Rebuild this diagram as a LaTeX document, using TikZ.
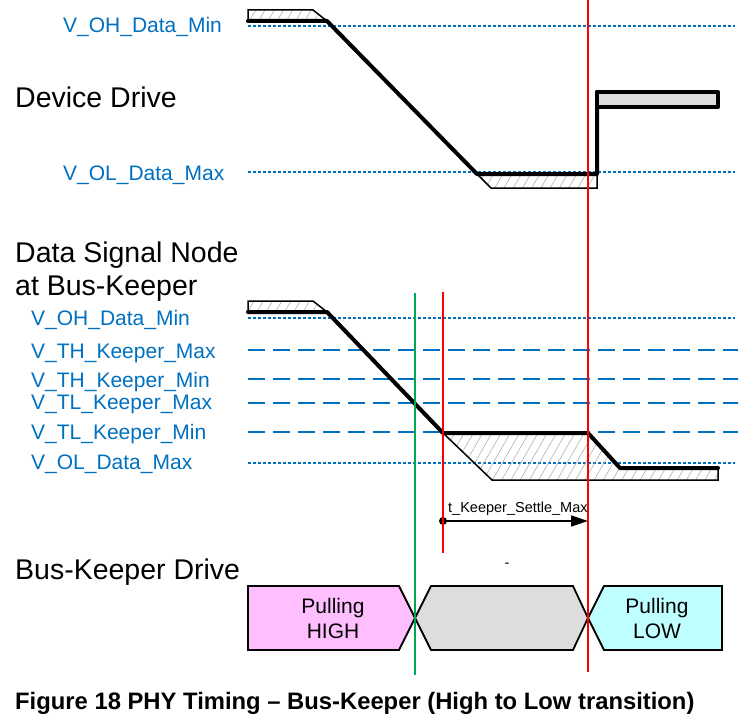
\documentclass[tikz,border=0pt]{standalone}
\usepackage{fontspec}
\setmainfont{Liberation Sans}
\usetikzlibrary{patterns.meta,arrows.meta}
\definecolor{lblblue}{RGB}{0,112,192}
\definecolor{pinkfill}{RGB}{255,191,255}
\definecolor{cyanfill}{RGB}{191,255,255}
\definecolor{grayfill}{RGB}{221,221,221}
\definecolor{keepgreen}{RGB}{0,168,80}
\begin{document}
\begin{tikzpicture}[x=1pt,y=-1pt,
  lbl/.style={anchor=base west,text=lblblue,font=\fontsize{21}{25}\selectfont,inner sep=0pt},
  head/.style={anchor=base west,font=\fontsize{28.5}{33}\selectfont,inner sep=0pt},
  dotl/.style={lblblue,line width=1.6pt,dash pattern=on 2.5pt off 2.5pt},
  dashl/.style={lblblue,line width=1.8pt,dash pattern=on 17pt off 8pt},
  wave/.style={line width=4pt,line join=round,line cap=round},
  hatchbox/.style={draw=black,line width=1.5pt,pattern={Lines[angle=60,distance=8pt,line width=0.6pt]},pattern color=gray!60},
  statebox/.style={draw=black,line width=1.8pt,line join=miter},
  statetxt/.style={align=center,font=\fontsize{21}{25}\selectfont,inner sep=0pt},
  vline/.style={line width=2pt}]
\useasboundingbox (0,0) rectangle (740,725);

% ---------- Device Drive ----------
\node[lbl] (ohtop) at (63,33) {V\_OH\_Data\_Min};
\node[head] (devdrive) at (15,107) {Device Drive};
\node[lbl] (oltop) at (63,180) {V\_OL\_Data\_Max};
\draw[dotl] (248,26) -- (735,26);
\draw[dotl] (248,172) -- (735,172);

\draw[hatchbox] (248,10) -- (313,10) -- (327,21) -- (248,21) -- cycle;
\draw[hatchbox] (477,174) -- (491,188) -- (597,188) -- (597,175) -- cycle;
\draw[wave] (248,21) -- (327,21) -- (477,174) -- (597,174) -- (597,92);
\draw[wave,fill=grayfill] (597,92) rectangle (718,107);

% ---------- Data Signal Node ----------
\node[head] (dsn1) at (15,262) {Data Signal Node};
\node[head] (dsn2) at (15,295) {at Bus-Keeper};
\node[lbl] (oh) at (31,325) {V\_OH\_Data\_Min};
\node[lbl] (thmax) at (31,358) {V\_TH\_Keeper\_Max};
\node[lbl] (thmin) at (31,387) {V\_TH\_Keeper\_Min};
\node[lbl] (tlmax) at (31,409) {V\_TL\_Keeper\_Max};
\node[lbl] (tlmin) at (31,439) {V\_TL\_Keeper\_Min};
\node[lbl] (ol) at (31,469) {V\_OL\_Data\_Max};

\draw[dotl] (248,318) -- (735,318);
\draw[dashl] (248,350) -- (738,350);
\draw[dashl] (248,379) -- (738,379);
\draw[dashl] (248,403) -- (738,403);
\draw[dashl] (248,432) -- (738,432);
\draw[dotl] (248,463) -- (735,463);

\draw[hatchbox] (248,301) -- (313,301) -- (327,312) -- (248,312) -- cycle;
\draw[hatchbox] (443,433) -- (588,433) -- (620,468) -- (718,468) -- (718,480) -- (492,480) -- cycle;
\draw[wave] (248,312) -- (327,312) -- (443,433) -- (588,433) -- (620,468) -- (718,468);

% ---------- timing arrow ----------
\coordinate (astart) at (443,521);
\coordinate (aend) at (588,521);
\fill (astart) circle (4pt);
\draw[line width=1.5pt,-{Triangle[length=17pt,width=11pt]}] (astart) -- (aend);
\node[anchor=base west,inner sep=0pt,font=\fontsize{14.5}{17}\selectfont] (tks) at (448,512) {t\_Keeper\_Settle\_Max};
\node[anchor=base,inner sep=0pt,font=\fontsize{14.5}{17}\selectfont] (dash) at (507,567) {-};

% ---------- Bus-Keeper Drive ----------
\node[head] (bkd) at (15,579) {Bus-Keeper Drive};
\draw[statebox,fill=pinkfill] (248,586) -- (399,586) -- (415,618) -- (399,650) -- (248,650) -- cycle;
\draw[statebox,fill=grayfill] (415,618) -- (431,586) -- (573,586) -- (588,618) -- (573,650) -- (431,650) -- cycle;
\draw[statebox,fill=cyanfill] (588,618) -- (604,586) -- (722,586) -- (722,650) -- (604,650) -- cycle;
\node[statetxt] (phigh) at (333,618) {Pulling\\HIGH};
\node[statetxt] (plow) at (657,618) {Pulling\\LOW};

% ---------- vertical markers ----------
\draw[vline,keepgreen] (415,293) -- (415,675);
\draw[vline,red] (443,292) -- (443,553);
\draw[vline,red] (588,0) -- (588,672);

% ---------- caption ----------
\node[anchor=base west,inner sep=0pt,font=\fontsize{23.8}{28}\selectfont\bfseries] (cap) at (15,709) {Figure 18 PHY Timing – Bus-Keeper (High to Low transition)};
\end{tikzpicture}
\end{document}
